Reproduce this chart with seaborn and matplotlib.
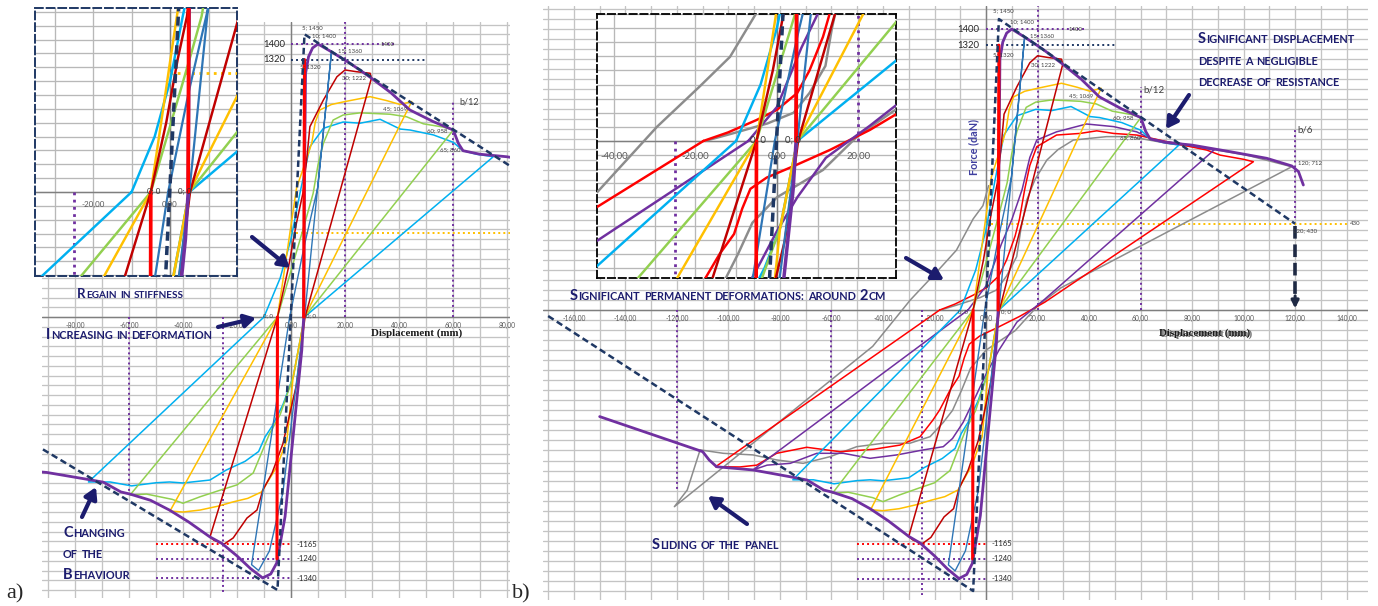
import matplotlib
matplotlib.use("Agg")
import matplotlib.pyplot as plt
import seaborn as sns
from matplotlib.ticker import MultipleLocator

sns.set_style("white")
plt.rcParams["font.family"] = ["Lato", "DejaVu Sans"]

W, H = 1378, 606

# ---- cycles: displacement (mm) / force (daN) ----
red_thick_neg_x = [-5.2, -5.0]
red_thick_neg_y = [-1240, 0]
red_thick_pos_x = [4.7, 5.0]
red_thick_pos_y = [0, 1320]

steel_x = [-0.5, 5, 9.9, 12.5, 15, 5, 1, -3, -8, -12, -14.6, -0.5]
steel_y = [0, 370, 664, 1020, 1360, 0, -450, -900, -1200, -1300, -1270, 0]

dred_x = [-5, -1, 2, 4.4, 5.8, 7, 12, 17, 20, 24.3, 29.3, 29.8, 5.2, 2, -3, -7, -10.4, -12.6,
          -16.3, -21.4, -24.8, -28.5, -30, -5]
dred_y = [0, 250, 480, 634, 805, 976, 1113, 1232, 1267, 1258, 1250, 1225, 0, -350, -650, -800,
          -887, -990, -1031, -1133, -1165, -1145, -1128, 0]

orange_x = [-5, -2, 0, 2.1, 5, 7.7, 9, 10.7, 15, 20, 29.3, 35.4, 40.4, 44.7, 5, 0.8, -1.5, -5.3,
            -10.9, -16, -21.4, -27, -33.7, -40, -44.8, -5]
orange_y = [0, 280, 470, 664, 780, 892, 1000, 1062, 1090, 1105, 1130, 1110, 1090, 1105, 0, -307,
            -631, -769, -897, -930, -948, -970, -990, -1000, -995, 0]

green_x = [-5, -1, 3, 5.5, 8.2, 10, 12, 15.6, 19.3, 25.6, 36.7, 42.8, 49, 56.4, 60.1, 5, 1, -4, -8,
           -11, -14, -20, -26, -33.7, -40, -44, -53.5, -59.6, -5]
green_y = [0, 190, 380, 500, 634, 780, 891, 1010, 1036, 1047, 1040, 1027, 991, 974, 959, 0, -300,
           -500, -600, -700, -800, -861, -887, -922, -955, -935, -908, -913, 0]

cyan_x = [-10, -4, 0, 3.3, 7, 12, 19.3, 25.6, 33, 40.4, 44.1, 52.7, 60.1, 63.7, 68.6, 74.9, 5, 0.8,
          -3, -7, -9.6, -12, -17, -24, -30, -40, -45, -50, -59, -67, -75, -10]
cyan_y = [0, 200, 400, 634, 873, 968, 1000, 994, 1014, 964, 959, 934, 896, 853, 835, 822, 0, -307,
          -450, -560, -615, -690, -740, -785, -836, -851, -846, -850, -866, -846, -846, 0]

# thin purple, red and grey cycles (only in b)
ptl_x = [-7, 0, 6, 10, 14, 17, 19.7, 27.4, 39, 49.5, 58.5, 65, 75.5, 88.5, 22.8, 12, 5, 0, -4, -8.9,
         -13, -16.6, -24.3, -34.6, -45, -55.4, -65.7, -76, -85, -90.5, -7]
ptl_y = [0, 120, 330, 450, 600, 760, 847, 888, 927, 914, 888, 847, 830, 797, 54, -60, -200, -320,
         -430, -560, -640, -681, -697, -722, -739, -714, -714, -764, -773, -797, 0]

redb_x = [-18, -12, -5, 0, 5, 8, 11.3, 13, 15, 17, 19.7, 27.4, 36.5, 43, 49.5, 58.5, 70.2, 85.7, 90.9,
          100, 103.8, 22.8, 13, 4, -2.5, -6.5, -8.5, -10.5, -14, -18, -20.6, -25.6, -33.4, -43.7,
          -56.7, -69.6, -81.3, -89, -95.6, -105, -18]
redb_y = [0, 30, 74, 110, 170, 250, 369, 454, 600, 720, 814, 872, 880, 893, 880, 872, 839, 797, 772,
          751, 739, 39, -32, -90, -130, -170, -240, -330, -400, -498, -548, -631, -673, -694, -706,
          -684, -714, -773, -782, -781, 0]

gray_x = [-17.6, -10, -2.3, 4.1, 8, 11.9, 13.5, 15.8, 19, 23.6, 28, 33.9, 46.8, 55.9, 62, 70.2, 88.3,
          101.2, 118.7, 29, 20, 11.3, 0, -6, -9.5, -13, -16.6, -21.7, -29.6, -40, -50.2, -60.6, -71,
          -81.3, -90.5, -102, -111, -116, -121, -44, -29.4, -19, -11.5, -5, -1.2, 1]
gray_y = [0, 30, 62, 100, 170, 266, 400, 548, 650, 747, 800, 847, 864, 864, 850, 831, 800, 772, 714,
          110, 20, -103, -200, -290, -400, -500, -560, -631, -664, -664, -681, -731, -764, -747, -722,
          -714, -697, -897, -980, -181, 50, 192, 298, 454, 520, 620]

# backbone (thick purple) and envelope (dashed)
env_x = [-150, -110, -107.5, -104.6, -90.5, -76, -69.5, -63, -59.6, -52, -45, -38, -30, -25.6, -20,
         -15, -10.5, -7.5, -5.3, -2.2, 0.9, 4, 4.7, 5.0, 5.4, 6.5, 8, 10, 15, 22, 29.3, 37, 44, 52.7,
         60.1, 62, 63.7, 69.9, 79.9, 94.8, 109, 118.7, 121.3, 123.2]
env_y = [-531, -706, -747, -781, -797, -831, -847, -897, -908, -940, -990, -1050, -1128, -1161, -1225,
         -1290, -1338, -1318, -1262, -1024, -597, -170, 0, 700, 1250, 1335, 1380, 1400, 1360, 1300,
         1230, 1150, 1062, 1002, 959, 890, 853, 835, 822, 789, 756, 718, 690, 623]
dash_x = [-170, -5, 5, 120]
dash_y = [-30, -1400, 1450, 430]

# reference lines
hl_y = [1400, 1320, 430, -1165, -1240, -1340]
hl_x0 = [0, 0, 0, -50, -50, -50]
hl_x1 = [39, 50, 140, 0, 0, 0]
vl_x = [-120, -60, -25, 20, 60, 120]
vl_y0 = [0, 0, 0, 0, 0, 460]
vl_y1 = [-900, -910, -1420, 1520, 1110, 910]

pt_text = ["5; 1450", "10; 1400", "15; 1360", "5; 1320", "30; 1222", "45; 1069", "60; 958", "65; 860"]
pt_x = [5, 10, 15, 5, 30, 45, 60, 65]
pt_y = [1450, 1400, 1360, 1320, 1222, 1069, 958, 860]

RED, DRED, ORANGE, GREEN = "#FF0000", "#C00000", "#FFC000", "#92D050"
CYAN, STEEL, NAVY, PURPLE, GRAY = "#00B0F0", "#2E75B6", "#1F3864", "#7030A0", "#8C8C8C"
TXT = "#1C1C6E"

fig = plt.figure(figsize=(W / 100, H / 100), dpi=100)


def box(l, t, r, b):
    return [l / W, 1 - b / H, (r - l) / W, (b - t) / H]


def curve(ax, xs, ys, color, lw, z=3):
    sns.lineplot(x=xs, y=ys, sort=False, estimator=None, ax=ax, color=color, lw=lw, zorder=z)
    return ax.lines[-1]


def frame(ax, xlim, ylim, gridc):
    ax.xaxis.set_major_locator(MultipleLocator(10))
    ax.yaxis.set_major_locator(MultipleLocator(50))
    ax.tick_params(length=0, labelbottom=False, labelleft=False)
    ax.grid(True, color=gridc, lw=0.95)
    ax.set_axisbelow(True)
    for s in ax.spines.values():
        s.set_visible(False)
    ax.axhline(0, color="#7F7F7F", lw=1.0, zorder=2)
    ax.axvline(0, color="#7F7F7F", lw=1.0, zorder=2)
    ax.set_xlim(xlim)
    ax.set_ylim(ylim)
    ax.set_xlabel("")
    ax.set_ylabel("")


def draw_cycles(ax, big, extra):
    k = 1.6 if big else 1.0
    if extra:
        curve(ax, gray_x, gray_y, GRAY, 1.1 * k)
        curve(ax, redb_x, redb_y, RED, 1.1 * k)
        curve(ax, ptl_x, ptl_y, PURPLE, 1.1 * k)
    curve(ax, cyan_x, cyan_y, CYAN, 1.1 * k)
    curve(ax, green_x, green_y, GREEN, 1.1 * k)
    curve(ax, orange_x, orange_y, ORANGE, 1.1 * k)
    curve(ax, dred_x, dred_y, DRED, 1.1 * k)
    curve(ax, steel_x, steel_y, STEEL, 1.0 * k)
    curve(ax, env_x, env_y, PURPLE, 2.0 * (1.25 if big else 1.0), z=4)
    curve(ax, red_thick_neg_x, red_thick_neg_y, RED, 2.2 * (1.2 if big else 1.0), z=4)
    curve(ax, red_thick_pos_x, red_thick_pos_y, RED, 2.2 * (1.2 if big else 1.0), z=4)
    ln = curve(ax, dash_x, dash_y, NAVY, 1.8 * (1.4 if big else 1.0), z=5)
    ln.set_dashes([2.6, 1.5])


def refs(ax, hidx, vidx, lw=1.4):
    hstyle = [PURPLE, NAVY, ORANGE, RED, PURPLE, PURPLE]
    for i in hidx:
        l = curve(ax, [hl_x0[i], hl_x1[i]], [hl_y[i], hl_y[i]], hstyle[i], lw, z=2.6)
        l.set_linestyle((0, (1, 1.6)))
    for i in vidx:
        l = curve(ax, [vl_x[i], vl_x[i]], [vl_y0[i], vl_y1[i]], PURPLE, lw, z=2.6)
        l.set_linestyle((0, (1, 1.6)))


def lab(ax, s, xy, dx, dy, ha="left", fs=4.3, color="#404040", **kw):
    ax.annotate(s, xy, xytext=(dx * 0.72, dy * 0.72), textcoords="offset points", ha=ha,
                va="center", fontsize=fs, color=color, zorder=7, annotation_clip=False, **kw)


def xticks(ax, lo, hi, dy, fs):
    for v in range(lo, hi + 1, 20):
        lab(ax, f"{v:.2f}".replace(".", ","), (v, 0), 0, dy, ha="center", fs=fs, color="#595959")


def dashed_box(ax, color, lw):
    for s in ax.spines.values():
        s.set_visible(True)
        s.set_color(color)
        s.set_linewidth(lw)
        s.set_linestyle((0, (4, 2)))


# ---------------- panel a ----------------
axa = fig.add_axes(box(42, 22, 510, 598))
draw_cycles(axa, False, False)
refs(axa, range(6), [1, 2, 3, 4])
frame(axa, (-92.2, 81.1), (-1441, 1513), "#C4C4C4")
xticks(axa, -80, 80, -8, 4.8)
offs_a = [(-2.5, 7, "left"), (-6, 8.5, "left"), (6.5, 1.5, "left"), (-4.5, -7.5, "left"),
          (-6, 1, "right"), (-5, 0, "right"), (-6, 0, "right"), (-6.5, 0, "right")]
for s, x, y, (dx, dy, ha) in zip(pt_text, pt_x, pt_y, offs_a):
    lab(axa, s, (x, y), dx, dy, ha=ha)
lab(axa, "1400", (33, 1400), 0, 0, fs=4.3)
lab(axa, "b/12", (60, 1105), 6, 0, fs=6.5)
lab(axa, "1400", (0, 1400), -6, 0, ha="right", fs=6.8, color="#262626")
lab(axa, "1320", (0, 1320), -6, 0, ha="right", fs=6.8, color="#262626")
for v in [-1165, -1240, -1340]:
    lab(axa, str(v), (0, v), 6, 0, fs=5.5, color="#262626")
lab(axa, "0; 0", (-5, 0), -5, 1.5, ha="right", fs=4.3)
lab(axa, "0; 0", (5, 0), 2, 1.5, fs=4.3)

# inset a
ia = fig.add_axes(box(35, 8, 237, 276))
ia.set_facecolor("white")
draw_cycles(ia, True, False)
refs(ia, [2], [2], lw=2.0)
frame(ia, (-35.1, 17.4), (-303, 664), "#B8B8B8")
dashed_box(ia, NAVY, 1.4)
xticks(ia, -20, 0, -12, 5.8)
lab(ia, "0; 0", (-5, 0), -4, 0.5, fs=5.8, color="#333333")
lab(ia, "0; 0", (5, 0), -11, 0.5, fs=5.8, color="#333333")

# ---------------- panel b ----------------
axb = fig.add_axes(box(543, 6, 1368, 600))
draw_cycles(axb, False, True)
refs(axb, range(6), range(6))
frame(axb, (-172, 148.3), (-1445, 1515), "#C4C4C4")
xticks(axb, -160, 140, -8, 4.8)
offs_b = [(-6, 8.5, "left"), (-1.7, 7.5, "left"), (5.4, 1.5, "left"), (-6, -10, "left"),
          (-8, 0.5, "right"), (-9, 0, "right"), (-7, 0, "right"), (-13, 0, "right")]
for s, x, y, (dx, dy, ha) in zip(pt_text, pt_x, pt_y, offs_b):
    lab(axb, s, (x, y), dx, dy, ha=ha)
lab(axb, "1400", (32, 1400), 0, 0, fs=4.3)
lab(axb, "b/12", (60, 1096), 3, 0, fs=7)
lab(axb, "b/6", (120, 897), 2, 0, fs=7)
lab(axb, "120; 712", (120, 712), 3, 4)
lab(axb, "430", (140.6, 430), 2, 0)
lab(axb, "120; 430", (120, 430), -2, -7)
lab(axb, "1400", (0, 1400), -7, 0, ha="right", fs=6.8, color="#262626")
lab(axb, "1320", (0, 1320), -7, 0, ha="right", fs=6.8, color="#262626")
for v in [-1165, -1240, -1340]:
    lab(axb, str(v), (0, v), 5, 0, fs=5.5, color="#262626")
lab(axb, "0; 0", (-5, 0), -5, -2, ha="right", fs=4.3)
lab(axb, "0; 0", (5, 0), 2, -2, fs=4.3)
lab(axb, "Force (daN)", (0, 812), -12, 0, ha="center", fs=7.8, color="#3F3F9F",
    rotation=90, fontweight="bold")
# dashed drop at b/6
dl = curve(axb, [120, 120], [420, 60], "#1F2A44", 2.6, z=5)
dl.set_dashes([3.5, 1.6])
axb.annotate("", xy=(120, 8), xytext=(120, 70),
             arrowprops=dict(arrowstyle="-|>", color="#1F2A44", lw=2.2, mutation_scale=11,
                             shrinkA=0, shrinkB=0), zorder=6)

# inset b
ib = fig.add_axes(box(597, 14, 896, 278))
ib.set_facecolor("white")
draw_cycles(ib, True, True)
refs(ib, [], [2, 3], lw=2.0)
frame(ib, (-44.1, 29.2), (-486, 450), "#B8B8B8")
dashed_box(ib, "black", 1.3)
xticks(ib, -40, 20, -15, 6.8)
lab(ib, "0; 0", (-5, 0), -6.5, 0.5, fs=6.8, color="#333333")
lab(ib, "0; 0", (5, 0), -12, 0.5, fs=6.8, color="#333333")

# ---------------- overlay: annotations in figure pixels ----------------
ov = fig.add_axes([0, 0, 1, 1], zorder=20)
ov.set_xlim(0, W)
ov.set_ylim(H, 0)
ov.axis("off")
ov.patch.set_alpha(0)
renderer = fig.canvas.get_renderer()


def smallcaps(x, y, s, big=10.5, small=7.8):
    runs = []
    for ch in s:
        kind = "sp" if ch == " " else ("big" if (ch.isupper() or ch.isdigit()) else "small")
        if runs and runs[-1][0] == kind and kind != "sp":
            runs[-1][1] += ch
        else:
            runs.append([kind, ch])
    cx = x
    for kind, txt in runs:
        if kind == "sp":
            cx += 0.3 * small * 100 / 72
            continue
        t = ov.text(cx, y, txt.upper(), fontsize=big if kind == "big" else small,
                    fontweight="bold", color=TXT, ha="left", va="baseline")
        cx += t.get_window_extent(renderer).width + 0.4


def arrow(tail, head):
    ov.annotate("", xy=head, xytext=tail,
                arrowprops=dict(arrowstyle="-|>,head_length=0.55,head_width=0.32", lw=3,
                                color=TXT, shrinkA=0, shrinkB=0, mutation_scale=12))


smallcaps(77, 298, "Regain in stiffness", 9.5, 7.2)
arrow((252, 237), (290, 268))
smallcaps(46, 339, "Increasing in deformation")
arrow((218, 327), (256, 318))
smallcaps(63, 537, "Changing")
smallcaps(63, 558, "of the")
smallcaps(63, 579, "Behaviour")
arrow((82, 517), (96, 487))

smallcaps(1198, 43, "Significant displacement")
smallcaps(1198, 65, "despite a negligible")
smallcaps(1198, 86, "decrease of resistance")
arrow((1189, 95), (1166, 129))
smallcaps(570, 300, "Significant permanent deformations: around 2cm")
arrow((906, 258), (944, 280))
smallcaps(652, 549, "Sliding of the panel")
arrow((747, 524), (708, 496))

ov.text(417, 333, "Displacement (mm)", family=["Liberation Serif"], fontweight="bold",
        fontsize=7.8, ha="center", va="center", color="#1A1A1A")
ov.text(1206.5, 334, "Displacement (mm)", family=["Liberation Serif"], fontweight="bold",
        fontsize=7.8, ha="center", va="center", color="#777777")
ov.text(1205, 333, "Displacement (mm)", family=["Liberation Serif"], fontweight="bold",
        fontsize=7.8, ha="center", va="center", color="#1A1A1A")
ov.text(6, 598, "a)", family=["Liberation Serif"], fontsize=16, ha="left", va="baseline")
ov.text(512, 598, "b)", family=["Liberation Serif"], fontsize=16, ha="left", va="baseline")

fig.savefig("out.png", dpi=100)
